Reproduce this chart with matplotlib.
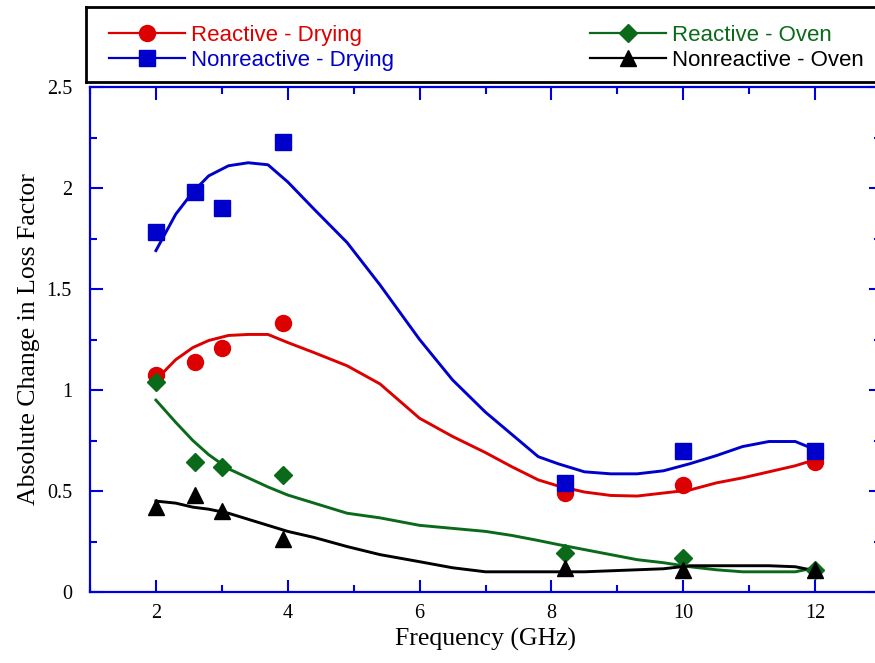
#!/usr/bin/env python3
"""
Absolute change in loss factor vs frequency: measured points plus fitted curves.
"""

import matplotlib
matplotlib.use('Agg')
import matplotlib.pyplot as plt
from matplotlib.ticker import MultipleLocator

#measured points
freq = [2, 2.6, 3, 3.93, 8.2, 10, 12]
react_dry = [1.075, 1.14, 1.21, 1.33, 0.49, 0.53, 0.645]
nonreact_dry = [1.78, 1.98, 1.90, 2.23, 0.54, 0.70, 0.70]
react_oven = [1.04, 0.645, 0.62, 0.58, 0.193, 0.168, 0.11]
nonreact_oven = [0.42, 0.48, 0.40, 0.26, 0.12, 0.11, 0.11]

#fitted curves
fit_x = [2, 2.3, 2.56, 2.8, 3.1, 3.4, 3.7, 4, 4.4, 4.9, 5.4, 6, 6.5, 7, 7.4,
         7.8, 8.1, 8.5, 8.9, 9.3, 9.7, 10.1, 10.5, 10.9, 11.3, 11.7, 12]
fit_react_dry = [1.05, 1.15, 1.21, 1.245, 1.27, 1.275, 1.275, 1.235, 1.185,
                 1.12, 1.03, 0.86, 0.77, 0.69, 0.62, 0.555, 0.525, 0.495,
                 0.478, 0.475, 0.49, 0.505, 0.54, 0.565, 0.595, 0.625, 0.655]
fit_nonreact_dry = [1.69, 1.87, 1.98, 2.06, 2.11, 2.125, 2.115, 2.03, 1.895,
                    1.73, 1.52, 1.25, 1.05, 0.89, 0.78, 0.67, 0.635, 0.595,
                    0.585, 0.585, 0.60, 0.635, 0.675, 0.72, 0.745, 0.745, 0.705]
fit_react_oven = [0.95, 0.84, 0.75, 0.68, 0.61, 0.565, 0.52, 0.48, 0.44,
                  0.39, 0.367, 0.33, 0.315, 0.30, 0.28, 0.255, 0.235, 0.21,
                  0.185, 0.16, 0.145, 0.125, 0.11, 0.10, 0.10, 0.10, 0.12]
fit_nonreact_oven = [0.45, 0.44, 0.42, 0.41, 0.39, 0.36, 0.33, 0.30, 0.27,
                     0.225, 0.185, 0.15, 0.12, 0.10, 0.10, 0.10, 0.10, 0.10,
                     0.105, 0.11, 0.115, 0.13, 0.13, 0.13, 0.13, 0.125, 0.105]

series = [
    ('Reactive - Drying', react_dry, fit_react_dry, '#dd0000', 'o', 11.5),
    ('Nonreactive - Drying', nonreact_dry, fit_nonreact_dry, '#0000cc', 's', 11),
    ('Reactive - Oven', react_oven, fit_react_oven, '#0a6a1a', 'D', 9),
    ('Nonreactive - Oven', nonreact_oven, fit_nonreact_oven, 'black', '^', 11),
]

AXIS_BLUE = '#0000dd'


def main():
    fig = plt.figure(figsize=(8.75, 6.63), dpi=100)
    ax = fig.add_axes([90/875, 71/663, 791/875, 505/663])

    handles = []
    for label, pts, fit, color, marker, ms in series:
        ax.plot(fit_x, fit, color=color, lw=2.1, zorder=2)
        ax.plot(freq, pts, linestyle='none', marker=marker, ms=ms,
                color=color, zorder=3)
        h, = ax.plot([], [], color=color, lw=1.6, marker=marker, ms=ms)
        handles.append((h, label))

    ax.set_xlim(1, 13)
    ax.set_ylim(0, 2.5)
    ax.xaxis.set_major_locator(MultipleLocator(2))
    ax.xaxis.set_minor_locator(MultipleLocator(1))
    ax.yaxis.set_minor_locator(MultipleLocator(0.25))
    ax.set_yticks([0, 0.5, 1, 1.5, 2, 2.5])
    ax.set_yticklabels(['0', '0.5', '1', '1.5', '2', '2.5'])

    for s in ax.spines.values():
        s.set_color(AXIS_BLUE)
        s.set_linewidth(1.6)
    ax.tick_params(which='both', direction='in', top=True, right=True,
                   color=AXIS_BLUE, width=1.5)
    ax.tick_params(which='major', length=9)
    ax.tick_params(which='minor', length=5)
    ax.tick_params(axis='x', pad=9)
    ax.tick_params(axis='y', pad=13)
    for lab in ax.get_xticklabels() + ax.get_yticklabels():
        lab.set_family('Liberation Serif')
        lab.set_fontsize(14.5)

    ax.set_xlabel('Frequency (GHz)', family='Liberation Serif', fontsize=18.5,
                  labelpad=3)
    ax.set_ylabel('Absolute Change in Loss Factor', family='Liberation Serif',
                  fontsize=18.5, labelpad=5)

    #legend box on top
    lax = fig.add_axes([86/875, 1 - 82/663, 800/875, 75/663])
    lax.set_xticks([])
    lax.set_yticks([])
    for s in lax.spines.values():
        s.set_color('black')
        s.set_linewidth(2)
    lax.legend([h for h, _ in handles], [l for _, l in handles],
               ncol=2, loc='center left', bbox_to_anchor=(0.004, 0.455),
               frameon=False, handlelength=3.4, handletextpad=0.3,
               columnspacing=8.8, labelspacing=0.17,
               prop={'family': 'Liberation Sans', 'size': 16},
               labelcolor='linecolor')

    fig.savefig('out.png', dpi=100)


if __name__ == '__main__':
    main()
